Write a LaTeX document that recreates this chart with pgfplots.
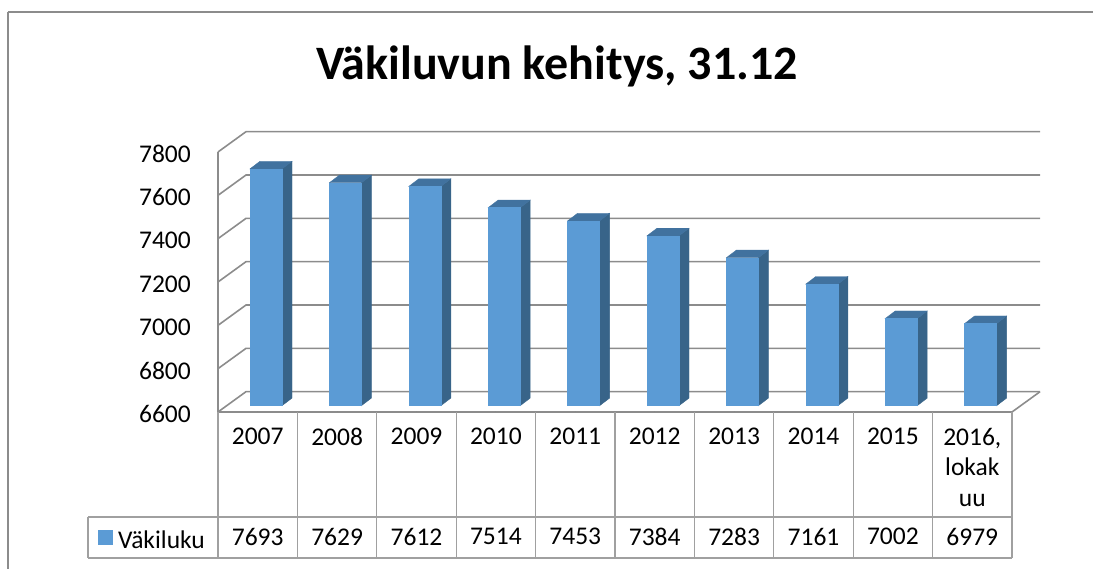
\documentclass[border=0pt]{standalone}
\usepackage{fontspec}
\setmainfont{Carlito}
\usepackage{pgfplots}
\pgfplotsset{compat=1.18}
\usepackage{pgfplotstable}

\definecolor{barfront}{HTML}{5B9BD5}
\definecolor{barside}{HTML}{386489}
\definecolor{bartop}{HTML}{41729F}
\definecolor{gridgray}{HTML}{8C8C8C}
\definecolor{tabgray}{HTML}{A0A0A0}
\newcommand\lbl{\fontsize{25.5}{30.5}\selectfont}

% population on 31.12 (last one: October 2016)
\pgfplotstableread{
x   v
0.5 7693
1.5 7629
2.5 7612
3.5 7514
4.5 7453
5.5 7384
6.5 7283
7.5 7161
8.5 7002
9.5 6979
}\data

\begin{document}
\begin{tikzpicture}
\begin{axis}[
  x=79.4pt, y=0.216667pt,
  xmin=0, xmax=10, ymin=6600, ymax=7800,
  axis lines*=left,
  axis line style={draw=gridgray, line width=1.5pt},
  clip=false,
  scaled y ticks=false,
  ytick={6600,6800,...,7800},
  xtick={0.5,1.5,...,9.5},
  xticklabels={2007,2008,2009,2010,2011,2012,2013,2014,2015,{2016,\\lokak\\uu}},
  major tick length=0pt,
  /pgf/number format/1000 sep={},
  /pgf/number format/assume math mode=true,
  tick label style={font=\lbl, text=black},
  yticklabel style={anchor=east, inner sep=0pt, xshift=-27pt, yshift=-2pt},
  xticklabel style={align=center, anchor=north, inner sep=0pt, yshift=-16pt},
]
% back wall and left wall grid
\pgfplotsinvokeforeach{6600,6800,...,7800}{
  \draw[gridgray, line width=1.6pt] (axis cs:0,#1) -- ++(28pt,20.3pt) -- ++(794pt,0pt);
}
\draw[gridgray, line width=1.6pt] (axis cs:10,6600) -- ++(28pt,20.3pt);

% 3D bars
\addplot[scatter, only marks, mark=*, mark size=0pt, mark options={draw=none,fill=none},
  point meta=explicit, point meta min=6600, point meta max=7800,
  scatter/@pre marker code/.code={
    \pgfmathsetmacro\h{\pgfplotspointmetatransformed*0.26}
    \fill[barside] (24.3pt,6.3pt) -- (34.3pt,13.9pt) -- (34.3pt,{13.9pt+\h pt}) -- (24.3pt,{6.3pt+\h pt}) -- cycle;
    \fill[bartop] (-7.7pt,{6.3pt+\h pt}) -- (24.3pt,{6.3pt+\h pt}) -- (34.3pt,{13.9pt+\h pt}) -- (2.3pt,{13.9pt+\h pt}) -- cycle;
    \fill[barfront] (-7.7pt,6.3pt) rectangle (24.3pt,{6.3pt+\h pt});
  },
  scatter/@post marker code/.code={}]
  table[x=x, y expr=6600, meta=v] {\data};

% data table below
\pgfplotsinvokeforeach{0,...,10}{
  \draw[tabgray, line width=1.3pt] (axis cs:#1,6600) -- (axis cs:#1,5926.2);
}
\draw[tabgray, line width=1.3pt] (axis cs:-1.637,6115.4) -- (axis cs:10,6115.4);
\draw[tabgray, line width=1.3pt] (axis cs:-1.637,5926.2) -- (axis cs:10,5926.2);
\draw[tabgray, line width=1.3pt] (axis cs:-1.637,6115.4) -- (axis cs:-1.637,5926.2);
\fill[barfront] (axis cs:-1.5113,6055.4) rectangle ++(15pt,-15pt);
\node[anchor=base west, font=\lbl, inner sep=0pt] at (axis cs:-1.2594,5968.2) {Väkiluku};

\addplot[only marks, mark=none,
  point meta=explicit,
  nodes near coords={\pgfmathprintnumber{\pgfplotspointmeta}},
  nodes near coords align=center,
  every node near coord/.append style={font=\lbl, text=black, inner sep=0pt}]
  table[x=x, y expr=6024.5, meta=v] {\data};

% title
\node[anchor=base, font=\fontsize{48}{58}\selectfont\bfseries, inner sep=0pt]
  at (axis cs:4.2695,8136.9) {Väkiluvun kehitys, 31.12};

% outer chart border (left and top only; the rest lies outside the picture)
\draw[gridgray, line width=1.8pt] (axis cs:-2.6448,5700) -- (axis cs:-2.6448,8446.2);
\draw[gridgray, line width=1.8pt] (axis cs:-2.6448,8446.2) -- (axis cs:11.6,8446.2);

\coordinate (bl) at (axis cs:-2.74559,5875.38);
\coordinate (tr) at (axis cs:11.0201,8501.54);
\end{axis}
\pgfresetboundingbox
\useasboundingbox (bl) rectangle (tr);
\end{tikzpicture}
\end{document}
